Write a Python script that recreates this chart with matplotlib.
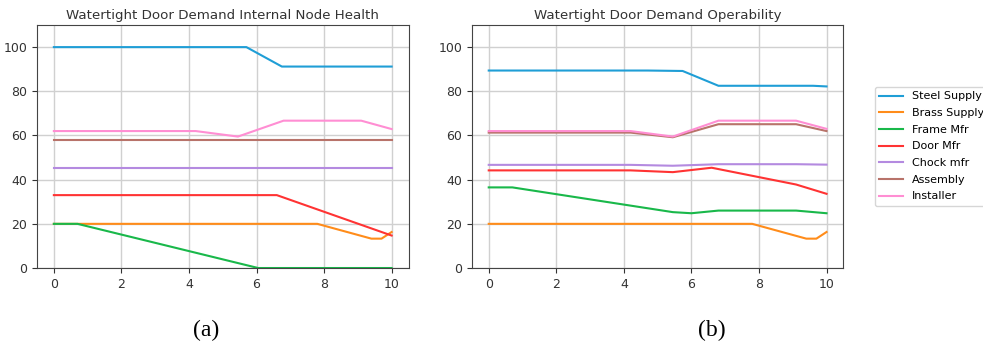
import matplotlib
matplotlib.use("Agg")
import matplotlib.pyplot as plt

names = ['Steel Supply', 'Brass Supply', 'Frame Mfr', 'Door Mfr',
         'Chock mfr', 'Assembly', 'Installer']
colors = ['#1f9ed6', '#ff8c1a', '#19b84a', '#ff3333',
          '#b48ae0', '#b8736a', '#ff8ed3']

# (a) internal node health
health_x = [
    [0, 5.7, 6.75, 10],
    [0, 7.8, 9.4, 9.7, 10],
    [0, 0.7, 6.05, 10],
    [0, 6.6, 10],
    [0, 10],
    [0, 10],
    [0, 4.2, 5.45, 6.8, 9.1, 10],
]
health_y = [
    [100, 100, 91.2, 91.2],
    [20, 20, 13.3, 13.3, 16.3],
    [20, 20, 0, 0],
    [33, 33, 14.7],
    [45.1, 45.1],
    [57.9, 57.9],
    [62, 62, 59.5, 66.7, 66.7, 62.9],
]

# (b) operability
oper_x = [
    [0, 4.7, 5.74, 6.8, 9.6, 10],
    [0, 7.8, 9.4, 9.7, 10],
    [0, 0.7, 5.45, 6.0, 6.8, 9.1, 10],
    [0, 4.2, 5.45, 6.6, 9.1, 10],
    [0, 4.2, 5.45, 6.8, 9.1, 10],
    [0, 4.2, 5.45, 6.8, 9.1, 10],
    [0, 4.2, 5.45, 6.8, 9.1, 10],
]
oper_y = [
    [89.4, 89.4, 89.2, 82.5, 82.5, 82.2],
    [20, 20, 13.3, 13.3, 16.3],
    [36.5, 36.5, 25.3, 24.8, 26.0, 26.0, 24.8],
    [44.2, 44.2, 43.4, 45.4, 37.8, 33.6],
    [46.7, 46.7, 46.3, 47.0, 47.0, 46.8],
    [61.3, 61.3, 59.2, 65.1, 65.1, 62.0],
    [62.0, 62.0, 59.5, 66.7, 66.7, 63.0],
]

fig = plt.figure(figsize=(9.83, 3.55), dpi=100)
ax1 = fig.add_axes([0.0376, 0.245, 0.378, 0.6845])
ax2 = fig.add_axes([0.480, 0.245, 0.378, 0.6845])

for ax, xs, ys, title in [(ax1, health_x, health_y, 'Watertight Door Demand Internal Node Health'),
                          (ax2, oper_x, oper_y, 'Watertight Door Demand Operability')]:
    for x, y, c, n in zip(xs, ys, colors, names):
        ax.plot(x, y, color=c, lw=1.5, label=n)
    ax.set_xlim(-0.5, 10.5)
    ax.set_ylim(0, 110)
    ax.set_xticks([0, 2, 4, 6, 8, 10])
    ax.set_yticks([0, 20, 40, 60, 80, 100])
    ax.grid(color='#d0d0d0', lw=1)
    ax.set_axisbelow(True)
    ax.tick_params(labelsize=9, colors='#333333')
    for s in ax.spines.values():
        s.set_color('#444444')
    ax.set_title(title, fontsize=9.6, color='#333333', pad=4)

fig.legend(*ax2.get_legend_handles_labels(), loc='upper left',
           bbox_to_anchor=(875 / 983, 1 - 87 / 355), fontsize=8,
           frameon=True, handlelength=2.1, handletextpad=0.8,
           labelspacing=0.6, borderaxespad=0)

fig.text(206 / 983, 1 - 330 / 355, '(a)', family='Liberation Serif', fontsize=17,
         ha='center', va='center')
fig.text(712 / 983, 1 - 330 / 355, '(b)', family='Liberation Serif', fontsize=17,
         ha='center', va='center')

fig.savefig('out.png', dpi=100)
